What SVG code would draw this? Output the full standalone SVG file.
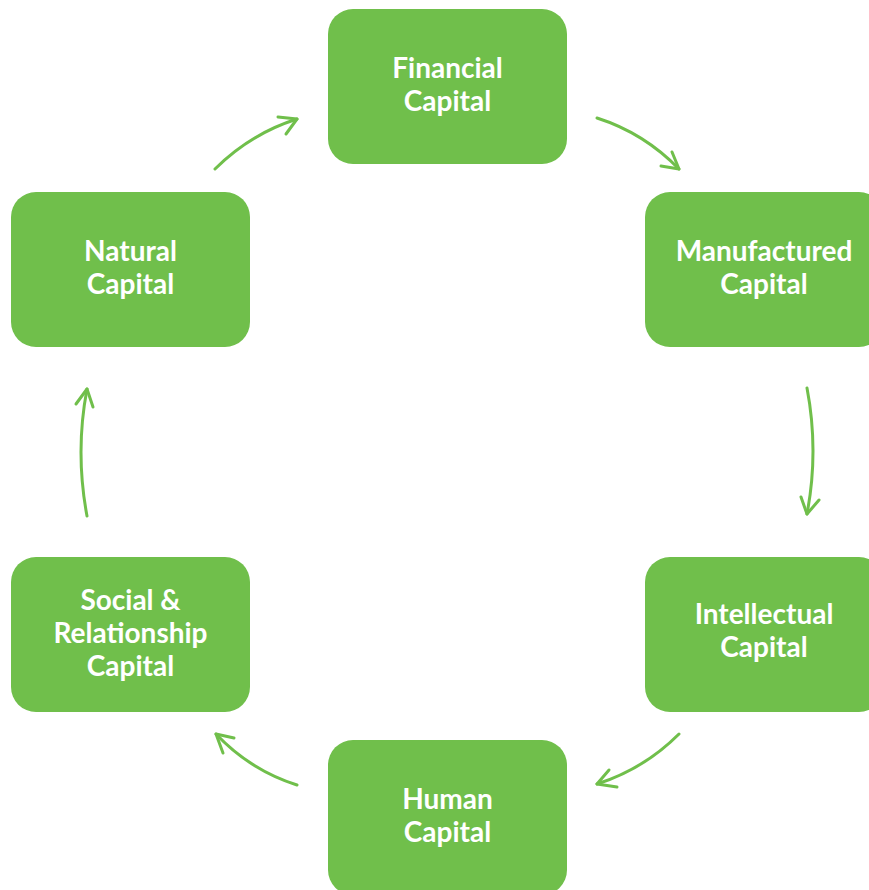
<svg xmlns="http://www.w3.org/2000/svg" width="869" height="890" viewBox="0 0 869 890">
  <style>
    .box { fill: #70BF4B; }
    .lbl { fill: #FFFFFF; font-family: Lato, "Open Sans", "Liberation Sans", sans-serif; font-weight: 700; font-size: 28px; text-anchor: middle; }
    .conn { fill: none; stroke: #70BF4B; stroke-width: 3; stroke-linecap: round; stroke-linejoin: round; }
  </style>
  <rect width="869" height="890" fill="#FFFFFF"/>
  <g id="connectors">
    <path class="conn" d="M215,169 Q250,134 297,119"/>
    <path class="conn" d="M278,117 L297,119 L286,134"/>
    <path class="conn" d="M597,118 Q644,133 679,169"/>
    <path class="conn" d="M661,166 L679,169 L672,152"/>
    <path class="conn" d="M807,388 Q819,451 807,514"/>
    <path class="conn" d="M801,497 L807,514 L819,500"/>
    <path class="conn" d="M679,734 Q644,769 597,784"/>
    <path class="conn" d="M609,770 L597,784 L617,787"/>
    <path class="conn" d="M297,785 Q250,770 216,734"/>
    <path class="conn" d="M234,738 L216,734 L223,753"/>
    <path class="conn" d="M87,516 Q75,452 87,389"/>
    <path class="conn" d="M76,404 L87,389 L93,407"/>
  </g>
  <g id="financial">
    <rect class="box" x="328" y="9" width="239" height="155" rx="25"/>
    <text class="lbl" x="447.5" y="78">Financial</text>
    <text class="lbl" x="447.5" y="111">Capital</text>
  </g>
  <g id="manufactured">
    <rect class="box" x="645" y="192" width="239" height="155" rx="25"/>
    <text class="lbl" x="764" y="261">Manufactured</text>
    <text class="lbl" x="764" y="294">Capital</text>
  </g>
  <g id="intellectual">
    <rect class="box" x="645" y="557" width="239" height="155" rx="25"/>
    <text class="lbl" x="764" y="624">Intellectual</text>
    <text class="lbl" x="764" y="657">Capital</text>
  </g>
  <g id="human">
    <rect class="box" x="328" y="740" width="239" height="155" rx="25"/>
    <text class="lbl" x="447.5" y="809">Human</text>
    <text class="lbl" x="447.5" y="842">Capital</text>
  </g>
  <g id="social">
    <rect class="box" x="11" y="557" width="239" height="155" rx="25"/>
    <text class="lbl" x="130.5" y="610">Social &amp;</text>
    <text class="lbl" x="130.5" y="643">Relationship</text>
    <text class="lbl" x="130.5" y="676">Capital</text>
  </g>
  <g id="natural">
    <rect class="box" x="11" y="192" width="239" height="155" rx="25"/>
    <text class="lbl" x="130.5" y="261">Natural</text>
    <text class="lbl" x="130.5" y="294">Capital</text>
  </g>
</svg>
